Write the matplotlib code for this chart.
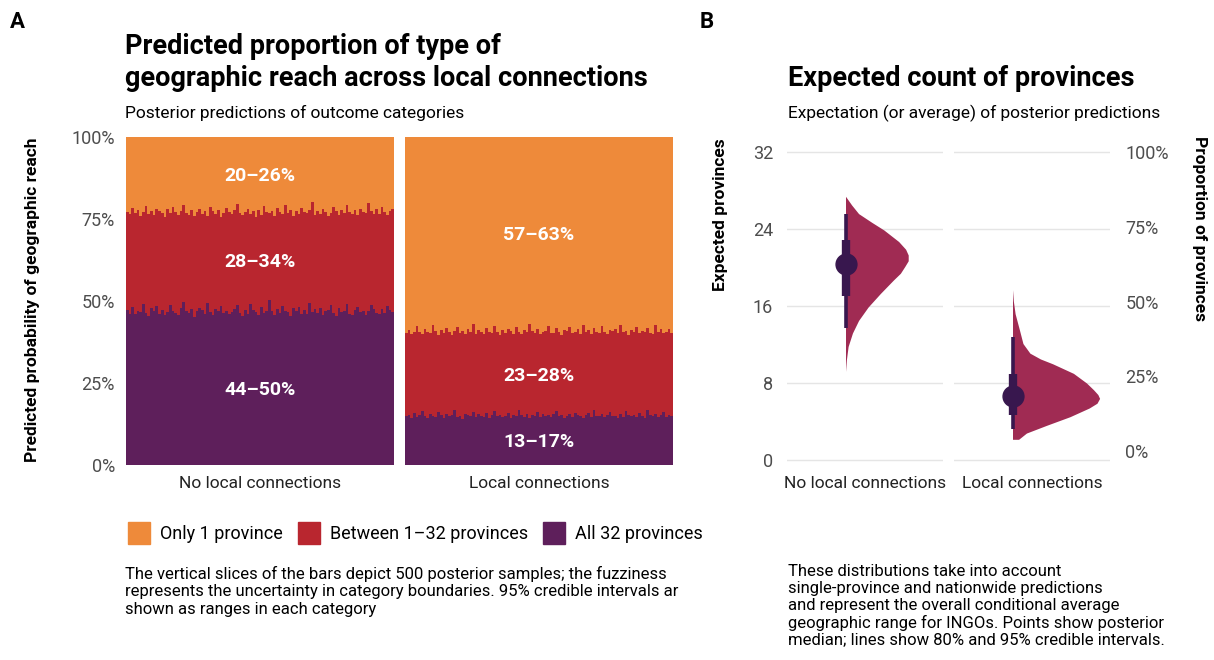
import numpy as np
import matplotlib
matplotlib.use('Agg')
import matplotlib.pyplot as plt
from matplotlib.patches import Patch

plt.rcParams['font.family'] = ['Roboto', 'DejaVu Sans']
plt.rcParams['font.size'] = 12

# Panel A : échantillons postérieurs (limites cumulées, en %)
cats = ['No local connections', 'Local connections']
legend_labels = ['Only 1 province', 'Between 1\u201332 provinces', 'All 32 provinces']

purple_top_no = [47.3, 46.1, 48.2, 45.9, 47.0, 46.6, 49.1, 46.2, 45.4, 47.8, 46.9, 48.5, 46.0, 47.4, 45.8,
                 46.7, 48.9, 47.1, 46.3, 45.6, 47.9, 49.6, 46.8, 46.4, 47.5, 45.2, 46.9, 48.0, 47.2, 46.1,
                 49.3, 46.5, 45.7, 47.6, 46.8, 48.4, 46.2, 47.0, 45.9, 46.6, 47.7, 48.8, 46.3, 45.5, 47.3,
                 46.0, 49.0, 47.4, 46.7, 45.8, 48.1, 46.4, 47.1, 50.2, 46.9, 45.6, 47.5, 46.2, 48.6, 47.0,
                 46.5, 45.3, 47.8, 46.8, 48.3, 46.1, 47.2, 45.9, 49.4, 46.6, 47.6, 46.3, 48.0, 45.7, 46.9,
                 47.3, 48.7, 46.4, 45.4, 47.9, 46.7, 47.1, 49.2, 46.0, 45.8, 47.4, 48.2, 46.5, 47.0, 45.6,
                 46.8, 48.9, 47.5, 46.2, 45.9, 47.7, 46.3, 48.5, 47.2, 46.6]
red_top_no = [77.1, 76.4, 78.3, 76.9, 77.6, 75.8, 77.2, 79.0, 76.6, 77.4, 76.1, 78.0, 77.3, 76.8, 75.5,
              77.9, 76.7, 78.6, 77.0, 76.3, 77.5, 79.4, 76.9, 76.2, 77.8, 75.9, 77.1, 78.2, 76.5, 77.3,
              76.0, 78.8, 77.4, 76.6, 77.7, 75.7, 76.9, 78.4, 77.2, 76.4, 77.6, 79.7, 76.8, 76.1, 77.0,
              78.1, 76.6, 77.5, 75.6, 77.8, 76.3, 78.9, 77.1, 76.7, 77.4, 76.0, 78.5, 77.2, 76.5, 79.2,
              76.9, 77.6, 75.8, 77.3, 76.4, 78.3, 77.0, 76.8, 77.7, 80.1, 76.2, 77.5, 76.6, 78.0, 77.1,
              75.9, 76.7, 78.7, 77.4, 76.3, 77.8, 76.9, 79.3, 77.2, 76.5, 77.6, 76.1, 78.2, 77.0, 76.8,
              79.8, 77.3, 76.4, 77.9, 76.6, 78.6, 77.1, 76.2, 77.5, 78.0]
purple_top_loc = [14.8, 15.3, 14.2, 15.9, 14.6, 15.1, 16.4, 14.9, 14.3, 15.5, 15.0, 14.7, 16.1, 15.2, 14.4,
                  15.7, 14.9, 15.3, 16.8, 14.6, 15.0, 14.1, 15.6, 15.2, 14.8, 16.2, 14.5, 15.4, 15.0, 14.7,
                  15.8, 14.3, 15.1, 16.5, 14.9, 15.3, 14.6, 15.0, 15.9, 14.4, 15.2, 14.8, 16.9, 15.1, 14.7,
                  15.5, 14.2, 15.3, 15.0, 16.3, 14.6, 15.4, 14.9, 15.1, 14.5, 15.7, 16.6, 14.8, 15.2, 14.4,
                  15.0, 15.6, 14.7, 16.0, 15.3, 14.9, 14.3, 15.1, 15.8, 14.6, 16.7, 15.0, 14.8, 15.4, 14.5,
                  15.2, 16.1, 14.9, 15.0, 14.2, 15.5, 14.7, 16.4, 15.1, 14.8, 15.3, 14.6, 15.9, 15.0, 14.4,
                  16.8, 15.2, 14.9, 15.6, 14.7, 15.1, 16.2, 14.5, 15.3, 15.0]
red_top_loc = [40.2, 41.1, 39.8, 40.7, 42.3, 40.4, 39.9, 41.5, 40.6, 40.1, 42.8, 40.9, 39.7, 41.2, 40.3,
               41.8, 40.5, 39.6, 41.0, 42.1, 40.2, 40.8, 39.9, 41.4, 40.6, 43.0, 40.0, 41.3, 40.4, 39.8,
               41.9, 40.7, 40.1, 42.5, 40.5, 39.7, 41.1, 40.3, 41.6, 40.9, 40.0, 42.2, 40.6, 39.9, 41.2,
               40.4, 42.9, 40.8, 40.2, 41.5, 39.8, 40.7, 41.0, 42.4, 40.3, 40.1, 41.7, 40.5, 39.6, 41.3,
               40.9, 42.0, 40.2, 40.6, 41.4, 39.9, 42.7, 40.4, 41.1, 40.0, 41.8, 40.7, 40.3, 42.3, 40.5,
               39.8, 41.2, 40.9, 41.6, 40.1, 42.6, 40.4, 40.8, 39.7, 41.3, 40.6, 42.1, 40.2, 41.0, 40.5,
               41.9, 40.3, 39.9, 42.8, 40.7, 41.4, 40.1, 40.6, 41.5, 40.2]

# intervalles à 95 % affichés dans chaque catégorie : (texte, position en %)
labels_no = [('20\u201326%', 88), ('28\u201334%', 62), ('44\u201350%', 23)]
labels_loc = [('57\u201363%', 70), ('23\u201328%', 27), ('13\u201317%', 7)]

# Panel B : densités et intervalles
dens_y_no = [27.4, 26.5, 25.6, 24.7, 23.9, 22.7, 21.9, 21.3, 20.7, 20.1, 19.4, 18.7, 17.3, 15.9, 14.5,
             13.2, 11.8, 10.4, 9.2]
dens_w_no = [0.0, 0.07, 0.15, 0.30, 0.44, 0.61, 0.69, 0.72, 0.72, 0.68, 0.63, 0.55, 0.40, 0.26, 0.15,
             0.08, 0.03, 0.01, 0.0]
dens_y_loc = [17.7, 16.5, 15.2, 13.5, 12.1, 11.1, 10.5, 10.0, 9.0, 8.0, 7.3, 6.8, 6.4, 5.9, 5.4, 4.5,
              3.6, 2.8, 2.15, 2.15]
dens_w_loc = [0.0, 0.01, 0.03, 0.08, 0.12, 0.20, 0.32, 0.46, 0.70, 0.85, 0.93, 0.98, 1.0, 0.97, 0.88,
              0.66, 0.39, 0.16, 0.07, 0.0]
medians = [20.4, 6.65]
ci80 = [(17.0, 22.9), (4.7, 8.9)]
ci95 = [(13.7, 25.6), (3.2, 12.75)]

ORANGE = '#EE8A3A'
RED = '#B9262F'
PURPLE = '#5E1F5B'
VIOLIN = '#A02B53'
DARK = '#38174E'
GREY = '#4D4D4D'
GRID = '#E5E5E5'

W, H = 1214, 660


def fx(px):
    return px / W


def fy(py):
    return 1 - py / H


fig = plt.figure(figsize=(W / 100, H / 100), dpi=100)

# ---------- Panel A ----------
axA = [fig.add_axes([fx(126), fy(465), fx(268), 328 / H]),
       fig.add_axes([fx(405), fy(465), fx(268), 328 / H])]
samples = [(purple_top_no, red_top_no, labels_no), (purple_top_loc, red_top_loc, labels_loc)]
for i, (ax, (ptop, rtop, labs)) in enumerate(zip(axA, samples)):
    ax.fill_between([0, 1], 0, 100, color=ORANGE, lw=0)
    ax.stairs(rtop, np.linspace(0, 1, len(rtop) + 1), baseline=0, fill=True, color=RED, lw=0)
    ax.stairs(ptop, np.linspace(0, 1, len(ptop) + 1), baseline=0, fill=True, color=PURPLE, lw=0)
    for txt, ypos in labs:
        ax.text(0.5, ypos, txt, ha='center', va='center', color='white',
                fontsize=14, fontweight='bold')
    ax.set_xlim(0, 1)
    ax.set_ylim(0, 100)
    ax.set_xticks([0.5])
    ax.set_xticklabels([cats[i]], fontsize=12.5, color='#222222')
    ax.tick_params(length=0, pad=8)
    for s in ax.spines.values():
        s.set_visible(False)
    if i == 0:
        ax.set_yticks([0, 25, 50, 75, 100])
        ax.set_yticklabels(['0%', '25%', '50%', '75%', '100%'], color=GREY, fontsize=13)
    else:
        ax.set_yticks([])

fig.text(fx(33), fy(300), 'Predicted probability of geographic reach', rotation=90,
         ha='center', va='center', fontsize=12.5, fontweight='bold')
fig.text(fx(10), fy(22), 'A', fontsize=16, fontweight='bold', va='center')
fig.text(fx(125), fy(47), 'Predicted proportion of type of', fontsize=19.5, fontweight='bold', va='center')
fig.text(fx(125), fy(78), 'geographic reach across local connections', fontsize=19.5,
         fontweight='bold', va='center')
fig.text(fx(125), fy(113), 'Posterior predictions of outcome categories', fontsize=12.5, va='center')

handles = [Patch(color=c) for c in [ORANGE, RED, PURPLE]]
fig.legend(handles, legend_labels, loc='center left', bbox_to_anchor=(fx(112), fy(533)), ncol=3,
           frameon=False, fontsize=13, handlelength=1.2, handleheight=1.5,
           handletextpad=0.55, columnspacing=0.85)
fig.text(fx(125), fy(566),
         'The vertical slices of the bars depict 500 posterior samples; the fuzziness\n'
         'represents the uncertainty in category boundaries. 95% credible intervals ar\n'
         'shown as ranges in each category',
         fontsize=12, va='top', linespacing=1.2)

# ---------- Panel B ----------
ylo, yhi = -0.8, 32.8
axB = [fig.add_axes([fx(787), fy(467.7), fx(156), 323.4 / H]),
       fig.add_axes([fx(954), fy(467.7), fx(156), 323.4 / H])]
dens = [(dens_y_no, dens_w_no), (dens_y_loc, dens_w_loc)]
xc = -0.15
scale = 0.67
for i, (ax, (dy, dw)) in enumerate(zip(axB, dens)):
    ax.fill_betweenx(dy, xc, xc + np.array(dw) * scale, color=VIOLIN, lw=0)
    ax.plot([xc, xc], ci95[i], color=DARK, lw=2.6, solid_capstyle='butt')
    ax.plot([xc, xc], ci80[i], color=DARK, lw=6, solid_capstyle='butt')
    ax.plot([xc], [medians[i]], 'o', color=DARK, ms=15)
    ax.set_xlim(-0.6, 0.6)
    ax.set_ylim(ylo, yhi)
    ax.set_yticks([0, 8, 16, 24, 32])
    ax.grid(axis='y', color=GRID, lw=1)
    ax.set_axisbelow(True)
    ax.set_xticks([0])
    ax.set_xticklabels([cats[i]], fontsize=12.5, color='#222222')
    ax.tick_params(length=0, pad=6)
    for s in ax.spines.values():
        s.set_visible(False)
    if i == 0:
        ax.set_yticklabels(['0', '8', '16', '24', '32'], color=GREY, fontsize=13)
        ax.tick_params(axis='y', pad=10)
    else:
        ax.set_yticklabels([])

# axe secondaire en proportion
axR = axB[1].twinx()
p0 = (ylo - 0.93) / 31.07 * 100
p1 = (yhi - 0.93) / 31.07 * 100
axR.set_ylim(p0, p1)
axR.set_yticks([0, 25, 50, 75, 100])
axR.set_yticklabels(['0%', '25%', '50%', '75%', '100%'], color=GREY, fontsize=13)
axR.tick_params(length=0, pad=11)
for s in axR.spines.values():
    s.set_visible(False)

fig.text(fx(720), fy(215), 'Expected provinces', rotation=90, ha='center', va='center',
         fontsize=12.5, fontweight='bold')
fig.text(fx(1200), fy(229), 'Proportion of provinces', rotation=270, ha='center', va='center',
         fontsize=12.5, fontweight='bold')
fig.text(fx(700), fy(22), 'B', fontsize=16, fontweight='bold', va='center')
fig.text(fx(788), fy(78), 'Expected count of provinces', fontsize=19.5, fontweight='bold', va='center')
fig.text(fx(788), fy(113), 'Expectation (or average) of posterior predictions', fontsize=12.5,
         va='center')
fig.text(fx(788), fy(564),
         'These distributions take into account\n'
         'single-province and nationwide predictions\n'
         'and represent the overall conditional average\n'
         'geographic range for INGOs. Points show posterior\n'
         'median; lines show 80% and 95% credible intervals.',
         fontsize=12, va='top', linespacing=1.15)

fig.savefig('out.png', dpi=100)
